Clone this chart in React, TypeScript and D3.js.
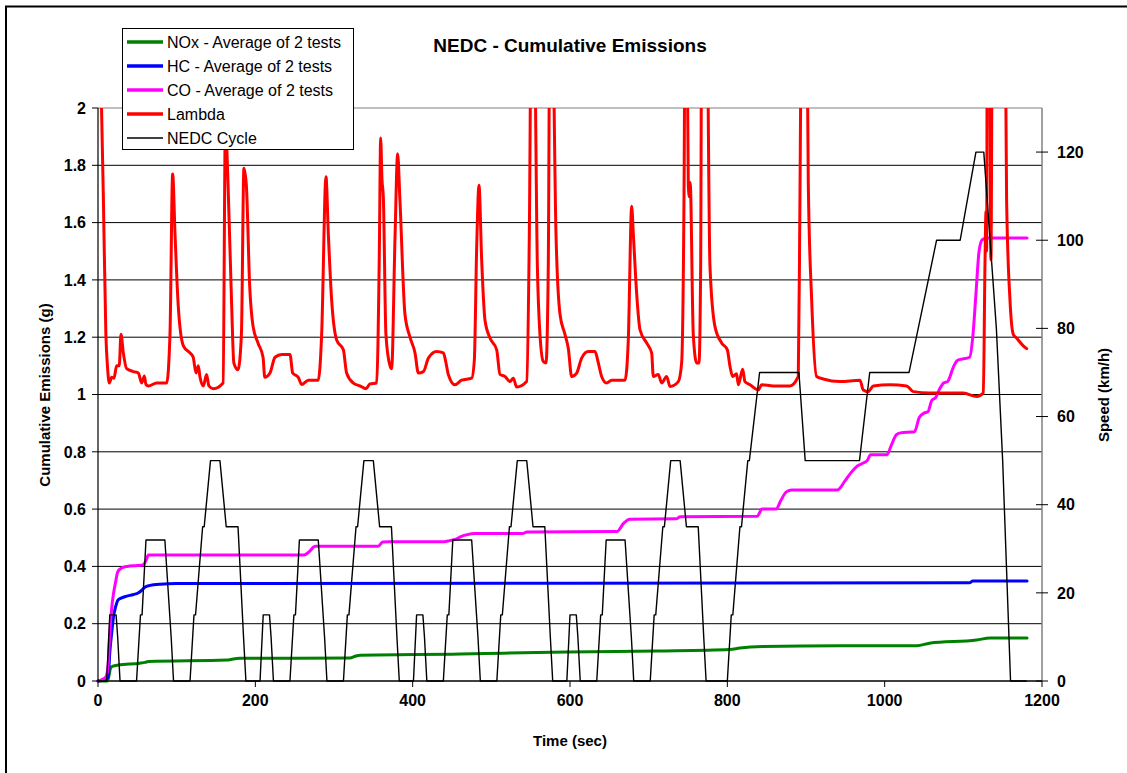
import React from "react";
import * as d3 from "d3";

// NEDC speed trace (s, km/h) - breakpoints of the 4 ECE-15 cycles + EUDC
const nedcTime = [
  0, 11, 15, 23, 25, 28, 49, 54, 56, 61, 85, 93, 96, 117, 122, 124, 133, 135, 143, 155, 163, 178, 185, 188,
  206, 210, 218, 220, 223, 244, 249, 251, 256, 280, 288, 291, 312, 317, 319, 328, 330, 338, 350, 358, 373, 380, 383,
  401, 405, 413, 415, 418, 439, 444, 446, 451, 475, 483, 486, 507, 512, 514, 523, 525, 533, 545, 553, 568, 575, 578,
  596, 600, 608, 610, 613, 634, 639, 641, 646, 670, 678, 681, 702, 707, 709, 718, 720, 728, 740, 748, 763, 770, 773,
  800, 805, 807, 816, 818, 826, 828, 841, 891, 899, 968, 981, 1031, 1066, 1096, 1116, 1126, 1142, 1150, 1160, 1180,
];
const nedcSpeed = [
  0, 0, 15, 15, 10, 0, 0, 15, 15, 32, 32, 10, 0, 0, 15, 15, 35, 35, 50, 50, 35, 35, 10, 0,
  0, 15, 15, 10, 0, 0, 15, 15, 32, 32, 10, 0, 0, 15, 15, 35, 35, 50, 50, 35, 35, 10, 0,
  0, 15, 15, 10, 0, 0, 15, 15, 32, 32, 10, 0, 0, 15, 15, 35, 35, 50, 50, 35, 35, 10, 0,
  0, 15, 15, 10, 0, 0, 15, 15, 32, 32, 10, 0, 0, 15, 15, 35, 35, 50, 50, 35, 35, 10, 0,
  0, 15, 15, 35, 35, 50, 50, 70, 70, 50, 50, 70, 70, 100, 100, 120, 120, 80, 50, 0, 0,
];

// cumulative NOx (g)
const noxTime = [0, 12, 14, 16, 19, 26, 53, 60, 64, 164, 172, 180, 320, 328, 333, 461, 515, 596, 710, 803, 816, 845, 943, 1041, 1057, 1117, 1134, 1181];
const noxValue = [0, 0, 0.02, 0.045, 0.052, 0.056, 0.062, 0.065, 0.068, 0.073, 0.077, 0.079, 0.08, 0.087, 0.09, 0.094, 0.097, 0.101, 0.105, 0.11, 0.115, 0.12, 0.123, 0.123, 0.132, 0.143, 0.15, 0.15];

// cumulative HC (g)
const hcTime = [0, 8, 13, 15, 17.5, 20, 22, 25.5, 30, 34, 45, 51, 55, 60, 65, 79, 100, 1108, 1112, 1181];
const hcValue = [0, 0.005, 0.014, 0.1, 0.17, 0.23, 0.255, 0.283, 0.29, 0.294, 0.302, 0.307, 0.315, 0.328, 0.333, 0.338, 0.34, 0.343, 0.349, 0.349];

// cumulative CO (g)
const coTime = [
  0, 5, 10, 13, 15, 18, 20, 22, 25, 30, 37, 50, 57, 61, 64, 262, 268, 276, 356, 362, 370, 440, 447, 455, 462, 468, 480,
  540, 545, 660, 668, 676, 735, 740, 838, 844, 862, 868, 875, 882, 940, 950, 958, 965, 972, 978, 982, 1003, 1008, 1015,
  1020, 1038, 1044, 1050, 1055, 1060, 1065, 1070, 1075, 1080, 1088, 1093, 1108, 1112, 1116, 1120, 1124, 1130, 1181,
];
const coValue = [
  0, 0.005, 0.014, 0.06, 0.17, 0.27, 0.31, 0.34, 0.38, 0.395, 0.4, 0.403, 0.405, 0.42, 0.44, 0.44, 0.45, 0.47, 0.47, 0.485, 0.486, 0.486, 0.49, 0.495, 0.505, 0.51, 0.515,
  0.515, 0.52, 0.522, 0.55, 0.565, 0.566, 0.573, 0.575, 0.6, 0.6, 0.63, 0.66, 0.667, 0.667, 0.7, 0.73, 0.75, 0.76, 0.77, 0.79, 0.79, 0.82, 0.86,
  0.866, 0.87, 0.92, 0.935, 0.94, 0.98, 0.99, 1.02, 1.04, 1.045, 1.1, 1.12, 1.13, 1.2, 1.35, 1.5, 1.54, 1.546, 1.546,
];

// lambda (-), plotted on the left axis, clipped at 2
const lambdaTime = [
  0, 4.5, 6.8, 10, 12, 14.4, 17.4, 20.3, 23.7, 27, 29.2, 32.2, 36.4, 44.9, 51.3, 55.5, 58.9, 61, 64, 74.6, 87.3, 91.5, 94.9, 97.9,
  102, 108.5, 117, 121, 124.6, 127.5, 129.7, 133.9, 138, 141, 146.6, 159, 162, 165, 169.7, 172.7, 178, 182.3, 185.5, 188.6,
  192.8, 197, 203.4, 209.8, 212, 218.6, 225, 233.5, 244, 247.5, 254.6, 258.9, 267.4, 280, 284.3, 289.8, 292.8, 297, 303.4,
  311.9, 316, 324.6, 333, 340.7, 345.7, 354.2, 357.6, 359.3, 361, 362.7, 366, 371.2, 373.3, 377.5, 380.9, 383.8, 390.2,
  396.6, 403, 407.2, 413.6, 420, 430.5, 439, 442.4, 445.3, 453.8, 462.3, 475, 478.4, 481.3, 484.3, 487.7, 491.9, 498.3,
  506.8, 511, 517.4, 523.7, 528, 532.2, 544.9, 548.3, 551, 554, 558.5, 561.8, 566.1, 569.5, 572.4, 574.5, 577, 582.2,
  587.3, 593.6, 597.9, 602.1, 608.5, 614.8, 623.3, 631.8, 636, 640.2, 646.6, 652.9, 669.9, 674.1, 678.4, 680.5, 684.7,
  689, 697.4, 703.8, 705.9, 712.2, 716.5, 722.9, 727.1, 737.7, 741.9, 744.9, 746.5, 748.3, 750.4, 751.8, 752.8, 756.7,
  761, 764, 766.1, 767.5, 773.7, 777.9, 784.3, 792.8, 800, 803.4, 806.7, 811.8, 814, 819.5, 822.4, 828.8, 839.4, 843.6,
  858.4, 879.6, 890.2, 892.3, 894.5, 896.6, 900.8, 902.9, 907.2, 913.5, 922, 943.2, 968.6, 972.8, 979.2, 985.5, 1006.7,
  1027.9, 1036.4, 1057.6, 1100, 1116.9, 1125.4, 1127.5, 1128.8, 1129.6, 1130.5, 1133, 1135.1, 1137, 1152.9, 1155, 1159.3,
  1163.5, 1167.7, 1176.2, 1180.5,
];
const lambdaValue = [
  2.8, 2.0, 1.69, 1.21, 1.1, 1.04, 1.06, 1.057, 1.1, 1.1, 1.21, 1.145, 1.09, 1.08, 1.075, 1.04, 1.065, 1.035, 1.03, 1.04, 1.04, 1.21, 1.77, 1.56,
  1.31, 1.17, 1.145, 1.13, 1.075, 1.1, 1.06, 1.03, 1.07, 1.03, 1.02, 1.04, 1.95, 1.76, 1.33, 1.11, 1.086, 1.21, 1.79, 1.73,
  1.38, 1.24, 1.18, 1.13, 1.06, 1.075, 1.13, 1.14, 1.14, 1.075, 1.06, 1.035, 1.05, 1.05, 1.21, 1.76, 1.56, 1.33, 1.19,
  1.156, 1.075, 1.04, 1.03, 1.02, 1.037, 1.04, 1.49, 1.895, 1.75, 1.69, 1.21, 1.1, 1.09, 1.54, 1.84, 1.68, 1.28,
  1.2, 1.145, 1.075, 1.08, 1.127, 1.15, 1.145, 1.11, 1.07, 1.034, 1.05, 1.057, 1.12, 1.505, 1.73, 1.47, 1.26, 1.197,
  1.156, 1.07, 1.063, 1.045, 1.057, 1.026, 1.045, 1.56, 2.4, 2.4, 1.45, 1.21, 1.115, 1.11, 1.45, 2.4, 2.4, 1.56,
  1.28, 1.21, 1.16, 1.063, 1.075, 1.127, 1.15, 1.15, 1.11, 1.063, 1.04, 1.05, 1.05, 1.19, 1.657, 1.56, 1.354,
  1.226, 1.18, 1.145, 1.063, 1.07, 1.04, 1.063, 1.028, 1.045, 1.11, 1.68, 2.4, 2.4, 1.73, 1.69, 1.74, 1.21,
  1.11, 1.11, 1.45, 2.4, 2.4, 1.45, 1.237, 1.18, 1.156, 1.098, 1.063, 1.072, 1.034, 1.088, 1.045, 1.034, 1.016, 1.034,
  1.03, 1.03, 1.063, 1.68, 2.4, 2.4, 2.4, 1.74, 1.33, 1.063, 1.054, 1.045, 1.05, 1.016, 1.01, 1.03, 1.034,
  1.03, 1.01, 1.005, 1.005, 0.993, 1.005, 1.45, 1.64, 1.5, 2.4, 2.4, 1.47, 2.4, 2.4, 1.68, 1.33,
  1.21, 1.197, 1.17, 1.16,
];

const xTicks = [0, 200, 400, 600, 800, 1000, 1200];
const leftTicks = [0, 0.2, 0.4, 0.6, 0.8, 1, 1.2, 1.4, 1.6, 1.8, 2];
const rightTicks = [0, 20, 40, 60, 80, 100, 120];

const legendItems = [
  { label: "NOx - Average of 2 tests", color: "#008000", width: 3.5 },
  { label: "HC - Average of 2 tests", color: "#0000FF", width: 3.5 },
  { label: "CO - Average of 2 tests", color: "#FF00FF", width: 3.5 },
  { label: "Lambda", color: "#FF0000", width: 3.5 },
  { label: "NEDC Cycle", color: "#000000", width: 1.5 },
];

const FONT = "'Liberation Sans', Arial, Helvetica, sans-serif";

export default function App() {
  const W = 1127;
  const H = 773;
  const left = 98, right = 1042, top = 108, bottom = 681;

  const x = d3.scaleLinear().domain([0, 1200]).range([left, right]);
  const yL = d3.scaleLinear().domain([0, 2]).range([bottom, top]);
  const yR = d3.scaleLinear().domain([0, 130]).range([bottom, top]);

  const path = (ts: number[], vs: number[], y: d3.ScaleLinear<number, number>, curve: d3.CurveFactory) =>
    d3
      .line<number>()
      .x((t) => x(t))
      .y((_, i) => y(vs[i]))
      .curve(curve)(ts) || "";

  const noxPath = path(noxTime, noxValue, yL, d3.curveMonotoneX);
  const hcPath = path(hcTime, hcValue, yL, d3.curveMonotoneX);
  const coPath = path(coTime, coValue, yL, d3.curveMonotoneX);
  const lambdaPath = path(lambdaTime, lambdaValue, yL, d3.curveMonotoneX);
  const nedcPath = path(nedcTime, nedcSpeed, yR, d3.curveLinear);

  const fmtL = (v: number) => (v === 0 || v === 1 || v === 2 ? String(v) : v.toFixed(1));

  return (
    <svg width={W} height={H} style={{ position: "absolute", left: 0, top: 0, background: "#fff" }} fontFamily={FONT}>
      <defs>
        <clipPath id="plotClip">
          <rect x={left - 3} y={top} width={right - left + 6} height={bottom - top + 4} />
        </clipPath>
      </defs>
      <rect x={0} y={0} width={W} height={H} fill="#fff" />
      {/* outer chart frame */}
      <rect x={6} y={6.5} width={W + 20} height={H + 20} fill="none" stroke="#000" strokeWidth={2} />

      {/* title */}
      <text x={570} y={52} textAnchor="middle" fontSize={19} fontWeight="bold">
        NEDC - Cumulative Emissions
      </text>

      {/* gridlines */}
      {leftTicks.map((t) => (
        <line key={"g" + t} x1={left} x2={right} y1={yL(t)} y2={yL(t)} stroke={t === 2 ? "#808080" : "#000"} strokeWidth={1} />
      ))}
      <line x1={right} x2={right} y1={top} y2={bottom} stroke="#808080" strokeWidth={1.5} />

      {/* series */}
      <g clipPath="url(#plotClip)" fill="none" strokeLinejoin="round" strokeLinecap="round">
        <path d={noxPath} stroke="#008000" strokeWidth={3} />
        <path d={hcPath} stroke="#0000FF" strokeWidth={3} />
        <path d={coPath} stroke="#FF00FF" strokeWidth={3} />
        <path d={lambdaPath} stroke="#FF0000" strokeWidth={3} />
        <path d={nedcPath} stroke="#000" strokeWidth={1.4} />
      </g>

      {/* left axis */}
      <line x1={left} x2={left} y1={top} y2={bottom} stroke="#000" strokeWidth={1.2} />
      {leftTicks.map((t) => (
        <g key={"l" + t}>
          <line x1={left - 6} x2={left} y1={yL(t)} y2={yL(t)} stroke="#000" />
          <text x={86} y={yL(t)} dy="0.36em" textAnchor="end" fontSize={16} fontWeight="bold">
            {fmtL(t)}
          </text>
        </g>
      ))}

      {/* bottom axis */}
      <line x1={left} x2={right} y1={bottom} y2={bottom} stroke="#000" strokeWidth={1.2} />
      {xTicks.map((t) => (
        <g key={"x" + t}>
          <line x1={x(t)} x2={x(t)} y1={bottom} y2={bottom + 6} stroke="#000" />
          <text x={x(t)} y={706} textAnchor="middle" fontSize={16} fontWeight="bold">
            {t}
          </text>
        </g>
      ))}

      {/* right axis */}
      {rightTicks.map((t) => (
        <g key={"r" + t}>
          <line x1={right - 6} x2={right + 6} y1={yR(t)} y2={yR(t)} stroke="#000" />
          <text x={1057} y={yR(t)} dy="0.36em" textAnchor="start" fontSize={16} fontWeight="bold">
            {t}
          </text>
        </g>
      ))}

      {/* axis titles */}
      <text x={570} y={746} textAnchor="middle" fontSize={15} fontWeight="bold">
        Time (sec)
      </text>
      <text transform="translate(50,395) rotate(-90)" textAnchor="middle" fontSize={15} fontWeight="bold">
        Cumulative Emissions (g)
      </text>
      <text transform="translate(1109,395) rotate(-90)" textAnchor="middle" fontSize={15} fontWeight="bold">
        Speed (km/h)
      </text>

      {/* legend */}
      <g>
        <rect x={122.5} y={28.5} width={231} height={121} fill="#fff" stroke="#000" strokeWidth={1} />
        {legendItems.map((d, i) => {
          const cy = 42 + i * 24;
          return (
            <g key={d.label}>
              <line x1={127} x2={163} y1={cy} y2={cy} stroke={d.color} strokeWidth={d.width} />
              <text x={167} y={cy} dy="0.36em" fontSize={16}>
                {d.label}
              </text>
            </g>
          );
        })}
      </g>
    </svg>
  );
}
